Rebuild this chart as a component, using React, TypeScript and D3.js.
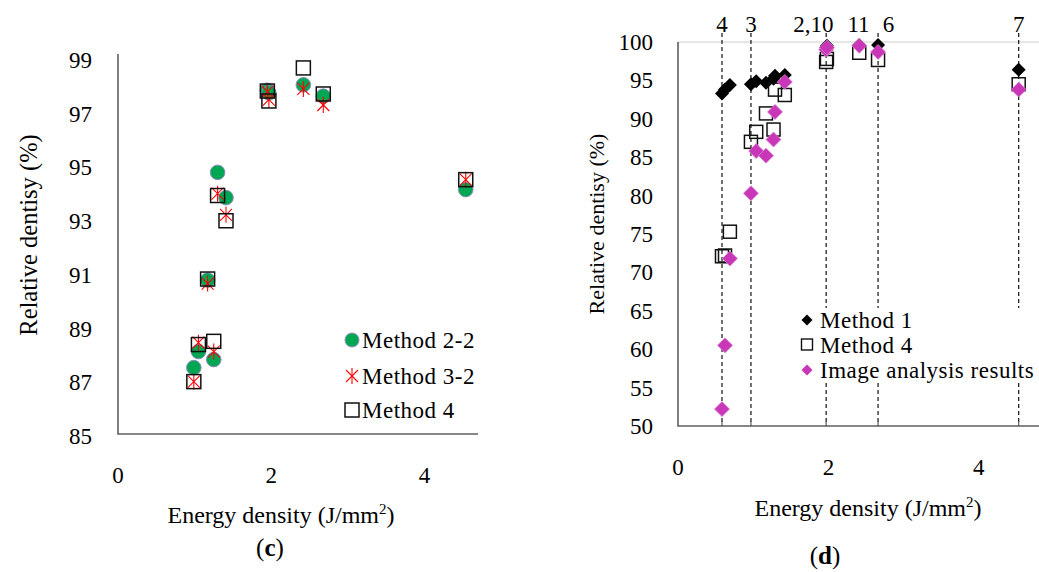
import React from 'react';
import * as d3 from 'd3';

// (c) energy density of the samples and relative density by method
const leftX = [0.99, 1.05, 1.17, 1.25, 1.3, 1.41, 1.95, 1.97, 2.42, 2.68, 4.54];
const method22 = [87.47, 88.07, 90.73, 87.77, 94.74, 93.8, 97.8, 97.7, 98.0, 97.58, 94.1];
const method32 = [86.95, 88.4, 90.6, 88.07, 93.95, 93.16, 97.75, 97.45, 97.85, 97.25, 94.47];
const method4c = [86.95, 88.33, 90.77, 88.45, 93.88, 92.94, 97.77, 97.4, 98.63, 97.66, 94.47];
const leftYTicks = [85, 87, 89, 91, 93, 95, 97, 99];
const xTicks = [0, 2, 4];

// (d)
const rightX = [0.585, 0.625, 0.69, 0.97, 1.04, 1.17, 1.27, 1.29, 1.42, 1.97, 1.98, 2.41, 2.66, 4.53];
const method1 = [93.3, 93.8, 94.4, 94.5, 94.9, 94.7, 95.2, 95.6, 95.7, 99.3, 99.5, 99.6, 99.6, 96.4];
const method4d = [72.1, 72.2, 75.3, 87.0, 88.3, 90.7, 88.6, 93.8, 93.1, 97.4, 97.8, 98.6, 97.66, 94.5];
const imageRes = [52.2, 60.5, 71.8, 80.3, 85.8, 85.2, 87.3, 90.9, 94.8, 99.0, 99.3, 99.5, 98.7, 93.8];
const rightYTicks = [50, 55, 60, 65, 70, 75, 80, 85, 90, 95, 100];
const sampleLineX = [0.585, 0.97, 1.97, 2.66, 4.53];
const sampleLabels = ['4', '3', '2,10', '11', '6', '7'];
const sampleLabelX = [0.585, 0.97, 1.8, 2.4, 2.8, 4.53];

const font = 'Liberation Serif, Times New Roman, serif';
const green = '#00a651';
const magenta = '#c936b8';

const diamond = (x: number, y: number, r: number) =>
  `M${x},${y - r}L${x + r},${y}L${x},${y + r}L${x - r},${y}Z`;

function Star({ x, y, r }: { x: number; y: number; r: number }) {
  const d = r * 0.75;
  return (
    <g stroke="#ff0000" strokeWidth={1.1}>
      <line x1={x} y1={y - r} x2={x} y2={y + r} />
      <line x1={x - d} y1={y - d} x2={x + d} y2={y + d} />
      <line x1={x - d} y1={y + d} x2={x + d} y2={y - d} />
    </g>
  );
}

export default function App() {
  const xL = d3.scaleLinear().domain([0, 4.7]).range([118, 478]);
  const yL = d3.scaleLinear().domain([85, 99]).range([434, 58]);
  const xR = d3.scaleLinear().domain([0, 4.8]).range([678, 1039]);
  const yR = d3.scaleLinear().domain([50, 100]).range([426, 42]);

  const legendStyle = { fontSize: 23, letterSpacing: 0.5 };

  return (
    <svg width={1039} height={572}
      style={{ position: 'absolute', left: 0, top: 0, background: '#fff', fontFamily: font, fontSize: 23 }}>
      {/* ---------- (c) ---------- */}
      <g>
        {leftYTicks.map((t) => (
          <text key={t} x={92} y={yL(t) + 10} textAnchor="end">{t}</text>
        ))}
        {xTicks.map((t) => (
          <text key={t} x={xL(t)} y={483} textAnchor="middle">{t}</text>
        ))}
        <path d={`M${xL(0)},${yL(99) - 4}V${yL(85)}H${xL(4.7)}`} fill="none" stroke="#5f5f5f" strokeWidth={1.6} />
        {leftX.map((x, i) => (
          <circle key={'g' + i} cx={xL(x)} cy={yL(method22[i])} r={7.3} fill={green} stroke="#8c8cc0" strokeWidth={1} />
        ))}
        {leftX.map((x, i) => (
          <Star key={'r' + i} x={xL(x)} y={yL(method32[i])} r={8} />
        ))}
        {leftX.map((x, i) => (
          <rect key={'s' + i} x={xL(x) - 7} y={yL(method4c[i]) - 7} width={14} height={14} fill="none" stroke="#111" strokeWidth={1.5} />
        ))}
        <text transform={`translate(28,235) rotate(-90)`} textAnchor="middle" dominantBaseline="central" fontSize={24.5}>Relative dentisy (%)</text>
        <text x={281} y={523} textAnchor="middle" fontSize={24}>
          Energy density (J/mm<tspan dy={-9} fontSize={15}>2</tspan><tspan dy={9}>)</tspan>
        </text>
        <text x={270} y={556} textAnchor="middle" fontSize={25}>(<tspan fontWeight="bold">c</tspan>)</text>
        {/* legend */}
        <circle cx={352} cy={340} r={7} fill={green} stroke="#8c8cc0" strokeWidth={1} />
        <text x={362} y={348} style={legendStyle}>Method 2-2</text>
        <Star x={352} y={376} r={8} />
        <text x={362} y={384} style={legendStyle}>Method 3-2</text>
        <rect x={345} y={403} width={14} height={14} fill="none" stroke="#111" strokeWidth={1.5} />
        <text x={362} y={418} style={legendStyle}>Method 4</text>
      </g>

      {/* ---------- (d) ---------- */}
      <g>
        <line x1={xR(0)} x2={1039} y1={yR(100)} y2={yR(100)} stroke="#e6e6e6" strokeWidth={2} />
        {rightYTicks.map((t) => (
          <text key={t} x={653} y={yR(t) + 8} textAnchor="end">{t}</text>
        ))}
        {xTicks.map((t) => (
          <text key={t} x={xR(t)} y={475} textAnchor="middle">{t}</text>
        ))}
        {sampleLineX.map((x, i) => (
          <line key={i} x1={xR(x)} x2={xR(x)} y1={33} y2={yR(50)} stroke="#111" strokeWidth={1.2} strokeDasharray="4,3" />
        ))}
        {sampleLabels.map((s, i) => (
          <text key={s} x={xR(sampleLabelX[i])} y={32} textAnchor="middle">{s}</text>
        ))}
        <path d={`M${xR(0)},${yR(100)}V${yR(50)}H1039`} fill="none" stroke="#5f5f5f" strokeWidth={1.6} />
        {sampleLineX.map((x, i) => (
          <line key={'t' + i} x1={xR(x)} x2={xR(x)} y1={yR(50) - 5} y2={yR(50)} stroke="#5f5f5f" strokeWidth={1.2} />
        ))}
        {rightX.map((x, i) => (
          <path key={'b' + i} d={diamond(xR(x), yR(method1[i]), 7)} fill="#000" />
        ))}
        {rightX.map((x, i) => (
          <rect key={'q' + i} x={xR(x) - 6.5} y={yR(method4d[i]) - 6.5} width={13} height={13} fill="none" stroke="#111" strokeWidth={1.5} />
        ))}
        {rightX.map((x, i) => (
          <path key={'m' + i} d={diamond(xR(x), yR(imageRes[i]), 7.5)} fill={magenta} stroke="#d97fcf" strokeWidth={0.8} />
        ))}
        {/* legend */}
        <rect x={800} y={308} width={239} height={75} fill="#fff" />
        <path d={diamond(807, 320, 5.5)} fill="#000" />
        <text x={820} y={328} style={legendStyle}>Method 1</text>
        <rect x={801.5} y={339} width={11} height={11} fill="none" stroke="#111" strokeWidth={1.4} />
        <text x={820} y={353} style={legendStyle}>Method 4</text>
        <path d={diamond(807, 370, 5.5)} fill={magenta} />
        <text x={820} y={378} style={legendStyle}>Image analysis results</text>
        <text transform={`translate(596,224) rotate(-90)`} textAnchor="middle" dominantBaseline="central" fontSize={22}>Relative dentisy (%)</text>
        <text x={868} y={516} textAnchor="middle" fontSize={24}>
          Energy density (J/mm<tspan dy={-9} fontSize={15}>2</tspan><tspan dy={9}>)</tspan>
        </text>
        <text x={825} y={564} textAnchor="middle" fontSize={25}>(<tspan fontWeight="bold">d</tspan>)</text>
      </g>
    </svg>
  );
}
